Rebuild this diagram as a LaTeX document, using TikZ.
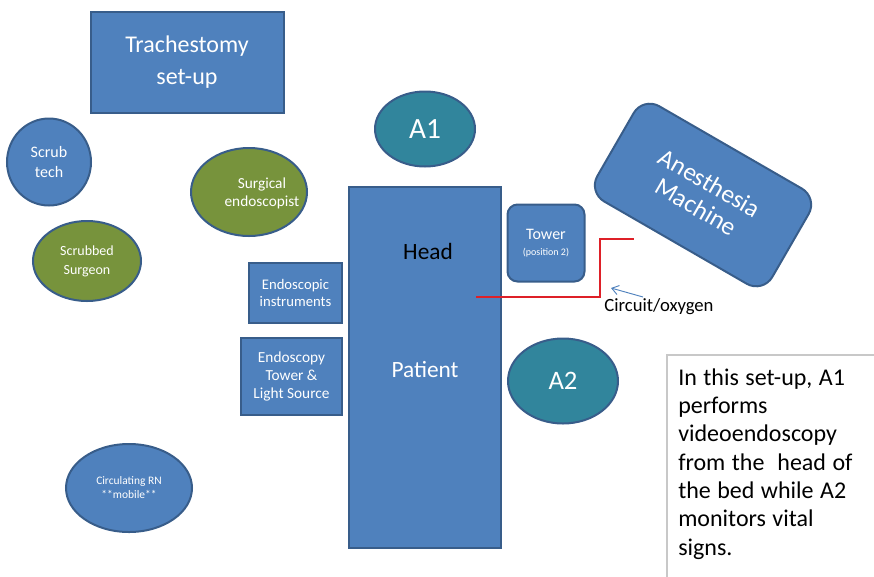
\documentclass[tikz,border=0pt]{standalone}
\usepackage{fontspec}
\setmainfont{Carlito}
\usetikzlibrary{shapes.geometric,arrows.meta}

\definecolor{boxblue}{HTML}{4F81BD}
\definecolor{edgeblue}{HTML}{385D8A}
\definecolor{staffgreen}{HTML}{77933C}
\definecolor{anesteal}{HTML}{31859C}
\definecolor{circred}{RGB}{222,32,40}
\definecolor{notegray}{RGB}{200,200,200}

\newcommand{\setfs}[2]{\fontsize{#1}{#2}\selectfont}
\newcommand{\notespace}{\spaceskip=0.27em\relax}

\tikzset{
  unit/.style={draw=edgeblue, line width=1.5pt, text=white, align=center, inner sep=0pt},
  blockbox/.style={unit, rectangle, fill=boxblue},
  roundbox/.style={blockbox, rounded corners=#1},
  person/.style={unit, ellipse, fill=boxblue},
  surgeon/.style={unit, ellipse, fill=staffgreen},
  anes/.style={unit, ellipse, fill=anesteal},
  caption/.style={inner sep=0pt, align=center},
  circuit/.style={draw=circred, line width=1.1pt},
  pointer/.style={draw=boxblue, line width=0.7pt, -{Straight Barb[length=5pt,width=7pt]}},
}

\begin{document}
\begin{tikzpicture}[x=0.75pt,y=-0.75pt]
\useasboundingbox (0,0) rectangle (874,576);
\clip (0,0) rectangle (874,576);

% staff and equipment around the table
\node[blockbox, minimum width=193*0.75pt, minimum height=101*0.75pt, font=\setfs{18}{24}]
  (trach) at (187,62.5) {Trachestomy\\set-up};
\node[person, minimum width=84*0.75pt, minimum height=87*0.75pt, font=\setfs{12}{15}]
  (scrub) at (49,162) {Scrub\\tech};
\node[surgeon, minimum width=108*0.75pt, minimum height=80*0.75pt, font=\setfs{10.5}{14}]
  (surgeon) at (87,261) {Scrubbed\\Surgeon};
\node[surgeon, minimum width=116*0.75pt, minimum height=88*0.75pt]
  (endoscopist) at (249,192) {};
\node[caption, text=white, font=\setfs{11.5}{13.5}]
  (endoscopisttext) at (262,193) {Surgical\\endoscopist};
\node[anes, minimum width=100*0.75pt, minimum height=75*0.75pt, font=\setfs{22}{26}]
  (a1) at (425,129) {A1};

% operating table
\node[blockbox, minimum width=152*0.75pt, minimum height=361*0.75pt]
  (patient) at (425,367.5) {};
\node[caption, text=black, font=\setfs{17.5}{21}] (head) at (428,251) {Head};
\node[caption, text=white, font=\setfs{17.5}{21}] (ptlabel) at (425,370) {Patient};

\node[blockbox, minimum width=93*0.75pt, minimum height=60*0.75pt, font=\setfs{11}{13}]
  (instr) at (295.5,293) {Endoscopic\\instruments};
\node[blockbox, minimum width=101*0.75pt, minimum height=77*0.75pt, font=\setfs{11.5}{13.5}]
  (scopetower) at (291.5,376.5) {Endoscopy\\Tower \&\\Light Source};

\node[roundbox=7.5pt, minimum width=77*0.75pt, minimum height=77*0.75pt, font=\setfs{12}{12}]
  (tower) at (546,243) {Tower\\[-0.5pt]{\setfs{7.5}{9}(position 2)}};

\node[roundbox=14pt, minimum width=202*0.75pt, minimum height=110*0.75pt, rotate=-30,
  font=\setfs{19}{20.5}] (machine) at (703,195) {Anesthesia\\Machine};

\node[anes, minimum width=110*0.75pt, minimum height=85*0.75pt, font=\setfs{20}{24}]
  (a2) at (563,381) {A2};
\node[person, minimum width=126*0.75pt, minimum height=88*0.75pt, font=\setfs{8.6}{10.5}]
  (rn) at (129,488) {Circulating RN\\**mobile**};

% breathing circuit from the head of the table to the machine
\coordinate (circstart) at (476,297);
\coordinate (circbend1) at (600,297);
\coordinate (circbend2) at (600,239);
\coordinate (circend) at (634,239);
\draw[circuit] (circstart) -- (circbend1) -- (circbend2) -- (circend);

\node[caption, text=black, font=\setfs{14}{16}] (circlabel) at (659,307) {Circuit/oxygen};
\coordinate (ptrtail) at (643,297);
\coordinate (ptrtip) at (611,288);
\draw[pointer] (ptrtail) -- (ptrtip);

% explanatory note
\draw[notegray, line width=1pt] (667,590) -- (667,355) -- (890,355);
\node[anchor=base west, inner sep=0pt, text width=190*0.75pt, align=left,
  text=black, font=\setfs{18}{21.25}] (note) at (678,385)
  {\notespace In this set-up, A1\\performs\\videoendoscopy\\from the\ \ head of\\the bed while A2\\monitors vital\\signs.};
\end{tikzpicture}
\end{document}
